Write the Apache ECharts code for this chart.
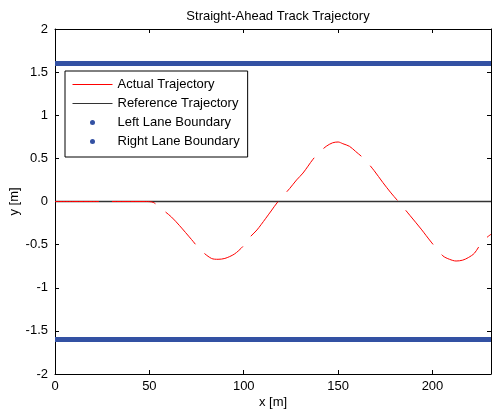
<!DOCTYPE html>
<html>
<head>
<meta charset="utf-8">
<script src="https://cdn.jsdelivr.net/npm/echarts@6/dist/echarts.min.js"></script>
<style>html,body{margin:0;padding:0;background:#fff}#c{width:492px;height:414px}</style>
</head>
<body>
<div id="c"></div>
<script>
const titleText = 'Straight-Ahead Track Trajectory';
const seriesNames = ['Actual Trajectory', 'Reference Trajectory', 'Left Lane Boundary', 'Right Lane Boundary'];
const xRange = [0, 231];
const yRange = [-2, 2];
const actualX = [0, 10, 20, 30, 40, 48, 52, 55.6, 61.7, 66, 72.3, 77, 82.9, 86.4, 90, 95, 99.6, 103, 107, 111.5, 114.5, 118.2, 124.3, 128, 131.4, 136.7, 140, 143.7, 147, 150, 152.5, 156, 159.3, 164, 169, 173.7, 178, 182.5, 188, 194, 199.3, 205.5, 209, 212.5, 216, 219, 222.2, 226.6, 231];
const actualY = [0, 0, 0, 0, 0, 0, -0.01, -0.07, -0.18, -0.28, -0.44, -0.56, -0.66, -0.67, -0.66, -0.61, -0.52, -0.42, -0.33, -0.2, -0.11, 0, 0.15, 0.25, 0.33, 0.49, 0.57, 0.64, 0.68, 0.69, 0.67, 0.64, 0.58, 0.49, 0.36, 0.22, 0.1, -0.015, -0.16, -0.32, -0.47, -0.63, -0.67, -0.69, -0.68, -0.65, -0.6, -0.46, -0.38];
const referenceX = [0, 231];
const referenceY = [0, 0];
const leftBoundaryX = [0, 231];
const leftBoundaryY = [1.6, 1.6];
const rightBoundaryX = [0, 231];
const rightBoundaryY = [-1.6, -1.6];

const zip = (xs, ys) => xs.map((x, i) => [x, ys[i]]);
const FONT = 'Liberation Sans';
const FS = 13;
const axisCommon = {
  type: 'value',
  axisLine: { show: true, onZero: false, lineStyle: { color: '#000', width: 1 } },
  axisTick: { show: true, inside: true, length: 4, lineStyle: { color: '#000' } },
  splitLine: { show: false },
  axisLabel: { color: '#000', fontSize: FS, fontFamily: FONT }
};
const chart = echarts.init(document.getElementById('c'), null, { renderer: 'canvas' });
chart.setOption({
  animation: false,
  backgroundColor: '#fff',
  title: {
    text: titleText, left: 273, top: 5, textAlign: 'center',
    textStyle: { fontSize: FS, fontWeight: 'normal', color: '#000', fontFamily: FONT }
  },
  grid: { left: 55, right: 1, top: 29, bottom: 40, outerBoundsMode: 'none', containLabel: false },
  xAxis: [
    Object.assign({}, axisCommon, {
      min: xRange[0], max: xRange[1], interval: 50, position: 'bottom',
      name: 'x [m]', nameLocation: 'middle', nameGap: 22, nameMoveOverlap: false,
      nameTextStyle: { color: '#000', fontSize: FS, fontFamily: FONT },
      axisLabel: Object.assign({}, axisCommon.axisLabel, { margin: 6, showMaxLabel: false,
        formatter: v => (v % 50 === 0 ? String(v) : '') })
    }),
    Object.assign({}, axisCommon, {
      min: xRange[0], max: xRange[1], interval: 50, position: 'top',
      axisLabel: { show: false }
    })
  ],
  yAxis: [
    Object.assign({}, axisCommon, {
      min: yRange[0], max: yRange[1], interval: 0.5, position: 'left',
      name: 'y [m]', nameLocation: 'middle', nameGap: 34, nameMoveOverlap: false,
      nameTextStyle: { color: '#000', fontSize: FS, fontFamily: FONT },
      axisLabel: Object.assign({}, axisCommon.axisLabel, { margin: 7 })
    }),
    Object.assign({}, axisCommon, {
      min: yRange[0], max: yRange[1], interval: 0.5, position: 'right',
      axisLabel: { show: false }
    })
  ],
  legend: {
    orient: 'vertical', left: 65, top: 71,
    itemWidth: 40, itemHeight: 5, itemGap: 4,
    padding: [6, 8, 8, 7],
    backgroundColor: '#fff', borderColor: '#000', borderWidth: 1, borderRadius: 0,
    textStyle: { color: '#000', fontSize: FS, fontFamily: FONT, lineHeight: 15 },
    data: [
      { name: seriesNames[0], lineStyle: { type: 'solid', width: 1 }, itemStyle: { opacity: 0 } },
      { name: seriesNames[1], lineStyle: { type: 'solid', width: 1 }, itemStyle: { opacity: 0 } },
      { name: seriesNames[2], icon: 'circle' },
      { name: seriesNames[3], icon: 'circle' }
    ]
  },
  series: [
    {
      name: seriesNames[1], type: 'line', symbol: 'none', z: 2,
      data: zip(referenceX, referenceY),
      color: '#000', lineStyle: { color: '#333', width: 1.3 }
    },
    {
      name: seriesNames[0], type: 'line', symbol: 'none', z: 3,
      data: zip(actualX, actualY), smooth: 0.3,
      color: '#ff0000', lineStyle: { color: '#ff0000', width: 1, type: [44, 13] }
    },
    {
      name: seriesNames[2], type: 'line', symbol: 'none', z: 4,
      data: zip(leftBoundaryX, leftBoundaryY),
      color: '#3351a3', lineStyle: { color: '#3351a3', width: 5 }
    },
    {
      name: seriesNames[3], type: 'line', symbol: 'none', z: 4,
      data: zip(rightBoundaryX, rightBoundaryY),
      color: '#3351a3', lineStyle: { color: '#3351a3', width: 5 }
    }
  ]
});
</script>
</body>
</html>
